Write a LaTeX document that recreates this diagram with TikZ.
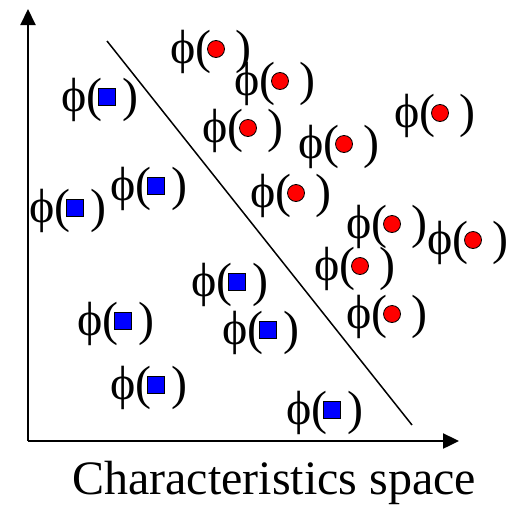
\documentclass[tikz,border=0pt]{standalone}
\usepackage{fontspec}
\setmainfont{Liberation Serif}
\usetikzlibrary{arrows.meta}

\tikzset{
  phitxt/.style={inner sep=0pt,anchor=base west,font=\fontsize{48}{50}\selectfont},
  redpt/.style={circle,draw=black,fill=red,line width=0.8pt,minimum size=17pt,inner sep=0pt},
  bluept/.style={rectangle,draw=black,fill=blue,line width=0.8pt,minimum size=17pt,inner sep=0pt},
}

\begin{document}
\begin{tikzpicture}[x=1pt,y=-1pt,>={Triangle[length=16pt,width=15pt]}]
\useasboundingbox (0,0) rectangle (510,506);
% axes
\coordinate (o) at (28,441);
\coordinate (ytip) at (28,9);
\coordinate (xtip) at (459,441);
\draw[->,line width=2pt] (o) -- (ytip);
\draw[->,line width=2.4pt] (o) -- (xtip);
% separating line
\coordinate (sepa) at (107,41);
\coordinate (sepb) at (412,425);
\draw[line width=1.5pt] (sepa) -- (sepb);
% red class
\node[phitxt] (r1) at (170,63) {ϕ(\hspace{24pt})};
\node[redpt] (r1m) at (216,49) {};
\node[phitxt] (r2) at (234,95) {ϕ(\hspace{24pt})};
\node[redpt] (r2m) at (280,81) {};
\node[phitxt] (r3) at (394,127) {ϕ(\hspace{24pt})};
\node[redpt] (r3m) at (440,113) {};
\node[phitxt] (r4) at (202,142) {ϕ(\hspace{24pt})};
\node[redpt] (r4m) at (248,128) {};
\node[phitxt] (r5) at (298,158) {ϕ(\hspace{24pt})};
\node[redpt] (r5m) at (344,144) {};
\node[phitxt] (r6) at (250,207) {ϕ(\hspace{24pt})};
\node[redpt] (r6m) at (296,193) {};
\node[phitxt] (r7) at (346,238) {ϕ(\hspace{24pt})};
\node[redpt] (r7m) at (392,224) {};
\node[phitxt] (r8) at (427,254) {ϕ(\hspace{24pt})};
\node[redpt] (r8m) at (473,240) {};
\node[phitxt] (r9) at (314,280) {ϕ(\hspace{24pt})};
\node[redpt] (r9m) at (360,266) {};
\node[phitxt] (r10) at (346,328) {ϕ(\hspace{24pt})};
\node[redpt] (r10m) at (392,314) {};
% blue class
\node[phitxt] (b1) at (61,111) {ϕ(\hspace{20pt})};
\node[bluept] (b1m) at (107,97) {};
\node[phitxt] (b2) at (110,200) {ϕ(\hspace{20pt})};
\node[bluept] (b2m) at (156,186) {};
\node[phitxt] (b3) at (29,222) {ϕ(\hspace{20pt})};
\node[bluept] (b3m) at (75,208) {};
\node[phitxt] (b4) at (191,296) {ϕ(\hspace{20pt})};
\node[bluept] (b4m) at (237,282) {};
\node[phitxt] (b5) at (77,335) {ϕ(\hspace{20pt})};
\node[bluept] (b5m) at (123,321) {};
\node[phitxt] (b6) at (222,344) {ϕ(\hspace{20pt})};
\node[bluept] (b6m) at (268,330) {};
\node[phitxt] (b7) at (110,399) {ϕ(\hspace{20pt})};
\node[bluept] (b7m) at (156,385) {};
\node[phitxt] (b8) at (286,424) {ϕ(\hspace{20pt})};
\node[bluept] (b8m) at (332,410) {};
% axis title
\node[inner sep=0pt,anchor=base,font=\fontsize{48}{50}\selectfont] (title) at (274,494) {Characteristics space};
\end{tikzpicture}
\end{document}
